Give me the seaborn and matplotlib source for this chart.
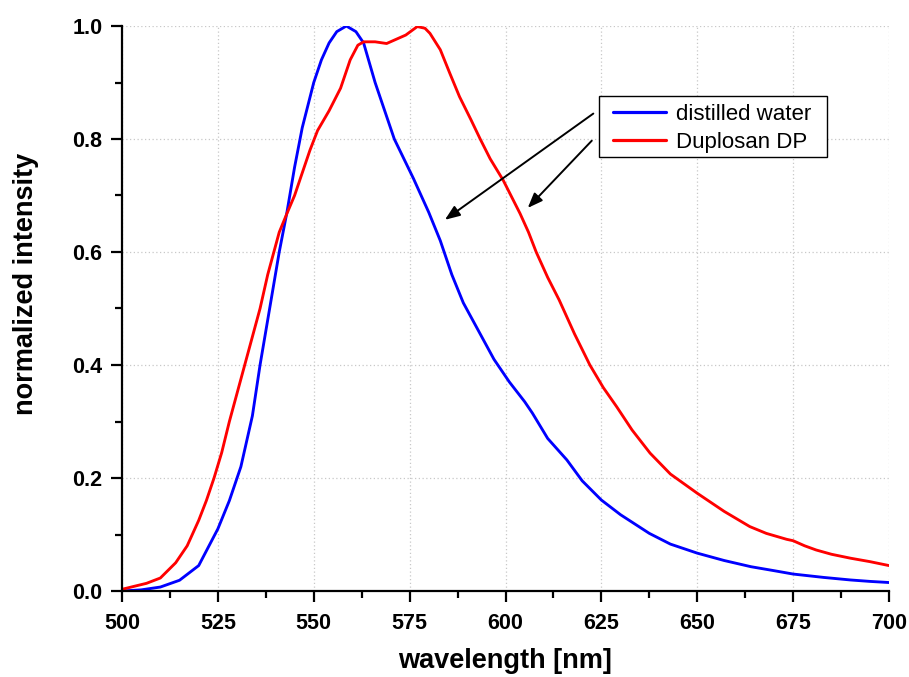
import numpy as np
import pandas as pd
import matplotlib
matplotlib.use("Agg")
import matplotlib.pyplot as plt
from matplotlib.ticker import MultipleLocator, FormatStrFormatter
from matplotlib.lines import Line2D
from matplotlib.patches import Rectangle
import seaborn as sns

# ---- data ----
water_wl = [500, 505, 510, 515, 520, 525, 528, 531, 534, 536, 538, 540, 541, 543, 545,
            547, 550, 552, 554, 556, 558.5, 561, 563, 566, 568, 571, 576, 580, 583, 586,
            589, 593, 597, 601, 605, 607, 611, 616, 620, 625, 630, 637.5, 643, 650, 657,
            664, 670, 675, 683, 690, 695, 700]
water_int = [0.0, 0.002, 0.007, 0.019, 0.045, 0.11, 0.16, 0.22, 0.31, 0.40, 0.48, 0.56, 0.60,
             0.67, 0.75, 0.82, 0.90, 0.94, 0.97, 0.99, 1.0, 0.99, 0.97, 0.90, 0.86, 0.80,
             0.73, 0.67, 0.62, 0.56, 0.51, 0.46, 0.41, 0.37, 0.335, 0.315, 0.27, 0.232,
             0.195, 0.161, 0.135, 0.102, 0.083, 0.067, 0.054, 0.043, 0.036, 0.030, 0.024,
             0.0195, 0.017, 0.015]

dp_wl = [500, 503, 506.4, 510, 514, 517, 520, 522, 524, 526, 528, 530, 532, 534, 536, 538,
         539.6, 541, 543, 545, 547, 549, 551, 554, 557, 559.5, 561.5, 563, 566, 569, 571,
         574, 577, 579, 580.3, 583, 585.5, 588, 591, 593.4, 596, 599.4, 603.8, 606, 608,
         611, 614, 618, 622, 625.5, 629, 633, 637.7, 643, 650, 657, 663.7, 668, 673.3,
         675, 678, 681, 685, 690, 695, 700]
dp_int = [0.003, 0.008, 0.0136, 0.023, 0.05, 0.08, 0.125, 0.16, 0.20, 0.245, 0.30, 0.35,
          0.40, 0.45, 0.50, 0.56, 0.60, 0.635, 0.668, 0.70, 0.74, 0.78, 0.815, 0.85, 0.89,
          0.94, 0.966, 0.972, 0.972, 0.969, 0.975, 0.984, 0.999, 0.996, 0.987, 0.958,
          0.916, 0.875, 0.834, 0.80, 0.765, 0.727, 0.668, 0.635, 0.60, 0.555, 0.515,
          0.455, 0.40, 0.36, 0.326, 0.285, 0.244, 0.207, 0.173, 0.141, 0.114, 0.102,
          0.0915, 0.089, 0.08, 0.0726, 0.065, 0.058, 0.052, 0.045]

series_names = ["distilled water", "Duplosan DP"]
series_colors = ["#0000ff", "#ff0000"]

df = pd.concat([
    pd.DataFrame({"wavelength": water_wl, "intensity": water_int, "sample": series_names[0]}),
    pd.DataFrame({"wavelength": dp_wl, "intensity": dp_int, "sample": series_names[1]}),
])

sns.set_style("ticks")
plt.rcParams["font.family"] = ["Liberation Sans", "DejaVu Sans"]
plt.rcParams["text.color"] = "black"
plt.rcParams["axes.labelcolor"] = "black"
plt.rcParams["xtick.color"] = "black"
plt.rcParams["ytick.color"] = "black"

W, H = 909, 677
fig = plt.figure(figsize=(W / 100, H / 100), dpi=100)
ax = fig.add_axes([122 / W, 1 - 591 / H, (889 - 122) / W, (591 - 26) / H])

sns.lineplot(data=df, x="wavelength", y="intensity", hue="sample",
             palette=dict(zip(series_names, series_colors)), linewidth=2.05,
             sort=False, estimator=None, ax=ax, legend=False)

ax.set_xlim(500, 700)
ax.set_ylim(0, 1.0)
ax.xaxis.set_major_locator(MultipleLocator(25))
ax.xaxis.set_minor_locator(MultipleLocator(12.5))
ax.yaxis.set_major_locator(MultipleLocator(0.2))
ax.yaxis.set_minor_locator(MultipleLocator(0.1))
ax.yaxis.set_major_formatter(FormatStrFormatter("%.1f"))

ax.grid(True, which="major", color="#c8c8c8", linestyle=(0, (1, 2)), linewidth=0.9)
ax.set_axisbelow(True)

for s in ["top", "right"]:
    ax.spines[s].set_visible(False)
for s in ["left", "bottom"]:
    ax.spines[s].set_linewidth(1.6)
    ax.spines[s].set_color("black")

ax.tick_params(which="major", direction="out", length=8, width=1.6, color="black",
               labelsize=15.5, pad=6, labelcolor="black")
ax.tick_params(which="minor", direction="out", length=5, width=1.6, color="black")
ax.tick_params(axis="x", pad=8)
for lab in ax.get_xticklabels() + ax.get_yticklabels():
    lab.set_fontweight("bold")

ax.set_xlabel("wavelength [nm]", fontsize=19.5, fontweight="bold", color="black")
ax.set_ylabel("normalized intensity", fontsize=19.5, fontweight="bold", color="black")
ax.xaxis.set_label_coords(0.5, -0.100)
ax.yaxis.set_label_coords(-0.108, 0.543)

# legend box: plain black rectangle, legend content drawn on top without own frame
box = Rectangle((599 / W, 1 - 157 / H), (827 - 599) / W, (157 - 96) / H,
                transform=fig.transFigure, facecolor="white", edgecolor="black",
                linewidth=1.0, zorder=4, clip_on=False)
ax.add_patch(box)

handles = [Line2D([], [], color=c, lw=2.3) for c in series_colors]
leg = ax.legend(handles, series_names, loc="upper left",
                bbox_to_anchor=(613 / W, 1 - 104 / H), bbox_transform=fig.transFigure,
                prop={"size": 16}, frameon=False, handlelength=2.4, borderpad=0,
                labelspacing=0.3, handletextpad=0.45, borderaxespad=0)
for t in leg.get_texts():
    t.set_color("black")
leg.set_zorder(6)

arrow_kw = dict(arrowstyle="-|>,head_length=0.9,head_width=0.35", color="black", lw=1.4,
                shrinkA=0, shrinkB=0)
ax.annotate("", xy=(584.2, 0.657), xytext=(622.9, 0.845), arrowprops=arrow_kw)
ax.annotate("", xy=(605.8, 0.678), xytext=(622.5, 0.797), arrowprops=arrow_kw)

fig.savefig("out.png", dpi=100)
